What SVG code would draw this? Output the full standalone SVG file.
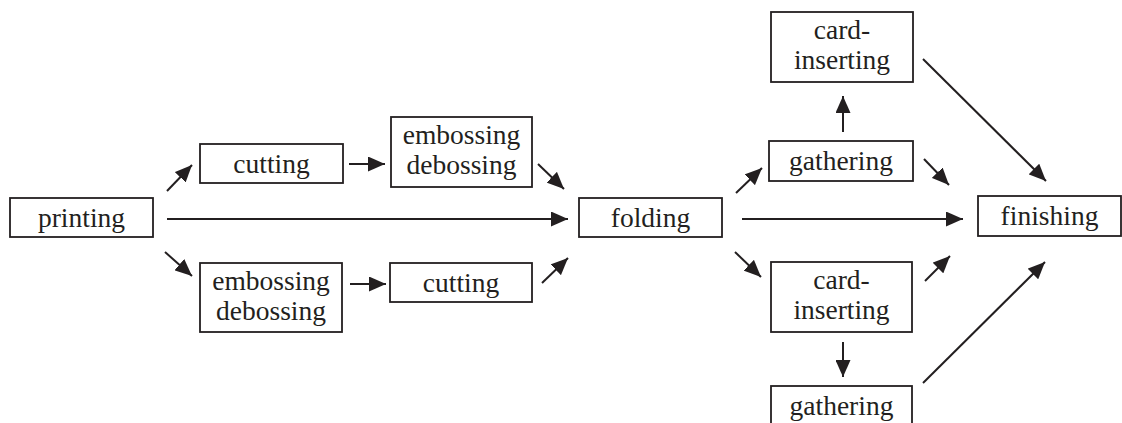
<svg xmlns="http://www.w3.org/2000/svg" width="1122" height="423" viewBox="0 0 1122 423">
  <style>
    .box { fill: #ffffff; stroke: #231f20; stroke-width: 1.8; }
    .lbl { font-size: 27.5px; fill: #231f20; text-anchor: middle; }
    .arrow { stroke: #231f20; stroke-width: 2; fill: none; marker-end: url(#head); }
  </style>
  <defs>
    <marker id="head" markerUnits="userSpaceOnUse" markerWidth="17" markerHeight="15" refX="17" refY="7.5" orient="auto">
      <path d="M0,0 L17,7.5 L0,15 Z" fill="#231f20"/>
    </marker>
  </defs>
  <rect width="1122" height="423" fill="#ffffff"/>

  <g font-family="Liberation Serif, Tinos, Times New Roman, DejaVu Serif, serif">
  <g id="printing">
    <rect class="box" x="10" y="198" width="143" height="39"/>
    <text class="lbl" x="81.5" y="227">printing</text>
  </g>
  <g id="cutting-top">
    <rect class="box" x="200" y="144" width="143" height="39"/>
    <text class="lbl" x="271.5" y="173">cutting</text>
  </g>
  <g id="embossing-top">
    <rect class="box" x="391" y="117" width="141" height="70"/>
    <text class="lbl" x="461.5" y="144">embossing</text>
    <text class="lbl" x="461.5" y="174">debossing</text>
  </g>
  <g id="embossing-bottom">
    <rect class="box" x="200" y="263" width="142" height="69"/>
    <text class="lbl" x="271" y="290">embossing</text>
    <text class="lbl" x="271" y="320">debossing</text>
  </g>
  <g id="cutting-bottom">
    <rect class="box" x="390" y="263" width="142" height="39"/>
    <text class="lbl" x="461" y="292">cutting</text>
  </g>
  <g id="folding">
    <rect class="box" x="579" y="198" width="143" height="39"/>
    <text class="lbl" x="650.5" y="227">folding</text>
  </g>
  <g id="card-inserting-top">
    <rect class="box" x="771" y="12" width="142" height="70"/>
    <text class="lbl" x="842" y="39">card-</text>
    <text class="lbl" x="842" y="69">inserting</text>
  </g>
  <g id="gathering-top">
    <rect class="box" x="769" y="141" width="144" height="40"/>
    <text class="lbl" x="841" y="170">gathering</text>
  </g>
  <g id="card-inserting-bottom">
    <rect class="box" x="771" y="262" width="141" height="70"/>
    <text class="lbl" x="841.5" y="289">card-</text>
    <text class="lbl" x="841.5" y="319">inserting</text>
  </g>
  <g id="gathering-bottom">
    <rect class="box" x="771" y="386" width="141" height="40"/>
    <text class="lbl" x="841.5" y="415">gathering</text>
  </g>
  <g id="finishing">
    <rect class="box" x="978" y="196" width="143" height="40"/>
    <text class="lbl" x="1049.5" y="225">finishing</text>
  </g>
  </g>

  <g id="connectors">
    <line class="arrow" x1="167" y1="191" x2="192" y2="165"/>
    <line class="arrow" x1="165" y1="252" x2="192" y2="276"/>
    <line class="arrow" x1="167" y1="219" x2="568" y2="219"/>
    <line class="arrow" x1="349" y1="164" x2="385" y2="164"/>
    <line class="arrow" x1="350" y1="284" x2="386" y2="284"/>
    <line class="arrow" x1="538" y1="164" x2="564" y2="189"/>
    <line class="arrow" x1="542" y1="283" x2="568" y2="258"/>
    <line class="arrow" x1="736" y1="193" x2="762" y2="168"/>
    <line class="arrow" x1="735" y1="252" x2="761" y2="277"/>
    <line class="arrow" x1="742" y1="219" x2="963" y2="219"/>
    <line class="arrow" x1="843" y1="132" x2="843" y2="96"/>
    <line class="arrow" x1="843" y1="342" x2="843" y2="377"/>
    <line class="arrow" x1="923" y1="59" x2="1046" y2="181"/>
    <line class="arrow" x1="924" y1="159" x2="949" y2="185"/>
    <line class="arrow" x1="925" y1="281" x2="950" y2="256"/>
    <line class="arrow" x1="923" y1="383" x2="1045" y2="262"/>
  </g>
</svg>
